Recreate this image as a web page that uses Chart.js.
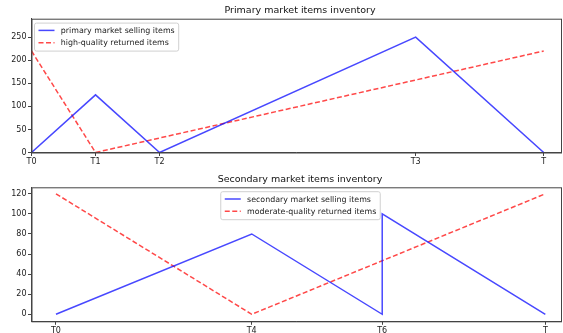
<!DOCTYPE html>
<html>
<head>
<meta charset="utf-8">
<script src="https://cdn.jsdelivr.net/npm/chart.js@4/dist/chart.umd.min.js"></script>
<style>
  body { margin: 0; background: #fff; }
  .box { position: absolute; left: 0; width: 563px; }
  #top { top: 0; height: 170px; }
  #bottom { top: 170px; height: 163px; }
</style>
</head>
<body>
<div class="box" id="top"><canvas id="primaryChart"></canvas></div>
<div class="box" id="bottom"><canvas id="secondaryChart"></canvas></div>
<script>
// top chart: primary market
const topTickPos = [0, 1, 2, 6, 8];
const topTickLabels = ['T0', 'T1', 'T2', 'T3', 'T'];
const topYTicks = [0, 50, 100, 150, 200, 250];
const primaryX = [0, 1, 2, 6, 8];
const primarySelling = [0, 125, 0, 250, 0];
const highQualityX = [0, 1, 8];
const highQualityReturned = [220, 0, 220];

// bottom chart: secondary market
const botTickPos = [0, 6, 10, 15];
const botTickLabels = ['T0', 'T4', 'T6', 'T'];
const botYTicks = [0, 20, 40, 60, 80, 100, 120];
const secondaryX = [0, 6, 10, 10, 15];
const secondarySelling = [0, 80, 0, 100, 0];
const moderateX = [0, 6, 15];
const moderateReturned = [120, 0, 120];

const FONT = 'DejaVu Sans';
const BLUE = 'rgba(20, 20, 255, 0.78)';
const RED = 'rgba(255, 20, 20, 0.78)';

function points(xs, ys) {
  return xs.map((x, i) => ({ x: x, y: ys[i] }));
}

// frame around the plot area plus title and legend, matplotlib style
const framePlugin = {
  id: 'frame',
  afterDraw(chart, args, opts) {
    const ctx = chart.ctx;
    const a = chart.chartArea;
    ctx.save();
    ctx.strokeStyle = '#444';
    ctx.lineWidth = 1;
    ctx.strokeRect(a.left + 0.5, a.top + 0.5, a.right - a.left, a.bottom - a.top);

    // title
    ctx.fillStyle = '#111';
    ctx.font = '9.5px ' + FONT;
    ctx.textAlign = 'center';
    ctx.textBaseline = 'middle';
    ctx.fillText(opts.title, opts.titleX, a.top - 8);

    // legend
    ctx.font = '7.9px ' + FONT;
    ctx.textAlign = 'left';
    const sets = chart.data.datasets;
    const tw = Math.max(...sets.map(d => ctx.measureText(d.label).width));
    const w = 4 + 16 + 6.3 + tw + 4;
    const h = 28;
    const x0 = opts.legendCenter ? opts.legendCenter - w / 2 : a.left + 3;
    const y0 = a.top + 4.4;
    ctx.fillStyle = 'rgba(255,255,255,0.85)';
    ctx.strokeStyle = '#d0d0d0';
    ctx.beginPath();
    ctx.roundRect(x0, y0, w, h, 2);
    ctx.fill();
    ctx.stroke();
    sets.forEach((d, i) => {
      const ry = y0 + 7.3 + i * 12.3;
      ctx.strokeStyle = d.borderColor;
      ctx.lineWidth = 1.5;
      ctx.setLineDash(d.borderDash || []);
      ctx.beginPath();
      ctx.moveTo(x0 + 4, ry);
      ctx.lineTo(x0 + 20, ry);
      ctx.stroke();
      ctx.setLineDash([]);
      ctx.fillStyle = '#222';
      ctx.fillText(d.label, x0 + 26.3, ry + 0.5);
    });
    ctx.restore();
  }
};

function makeChart(id, cfg) {
  return new Chart(document.getElementById(id), {
    type: 'line',
    data: { datasets: cfg.datasets },
    options: {
      responsive: true,
      maintainAspectRatio: false,
      animation: false,
      layout: { padding: { top: cfg.padTop, right: 2, left: 0, bottom: 0 } },
      elements: { point: { radius: 0 }, line: { tension: 0, borderWidth: 1.5 } },
      plugins: {
        legend: { display: false },
        tooltip: { enabled: false },
        frame: { title: cfg.title, titleX: 300, legendCenter: cfg.legendCenter }
      },
      scales: {
        x: {
          type: 'linear',
          min: cfg.xMin,
          max: cfg.xMax,
          afterBuildTicks: s => { s.ticks = cfg.xTicks.map(v => ({ value: v })); },
          afterFit: s => { s.height = cfg.xHeight; },
          ticks: {
            autoSkip: false,
            maxRotation: 0,
            padding: 1,
            color: '#222',
            font: { family: FONT, size: 8 },
            callback: (v) => cfg.xLabels[cfg.xTicks.indexOf(v)]
          },
          grid: { drawOnChartArea: false, drawTicks: true, tickLength: 3.5, color: '#444' },
          border: { color: '#444' }
        },
        y: {
          min: cfg.yMin,
          max: cfg.yMax,
          afterBuildTicks: s => { s.ticks = cfg.yTicks.map(v => ({ value: v })); },
          afterFit: s => { s.width = 31.5; },
          ticks: {
            padding: 1.5,
            color: '#222',
            font: { family: FONT, size: 8 }
          },
          grid: { drawOnChartArea: false, drawTicks: true, tickLength: 3.5, color: '#444' },
          border: { color: '#444' }
        }
      }
    },
    plugins: [framePlugin]
  });
}

makeChart('primaryChart', {
  title: 'Primary market items inventory',
  padTop: 18.7,
  xHeight: 17.5,
  xMin: 0, xMax: 8.27,
  xTicks: topTickPos, xLabels: topTickLabels,
  yMin: 0, yMax: 290, yTicks: topYTicks,
  datasets: [{
    label: 'primary market selling items',
    data: points(primaryX, primarySelling),
    borderColor: BLUE
  }, {
    label: 'high-quality returned items',
    data: points(highQualityX, highQualityReturned),
    borderColor: RED,
    borderDash: [5, 2.5]
  }]
});

makeChart('secondaryChart', {
  title: 'Secondary market items inventory',
  padTop: 17.3,
  xHeight: 11.7,
  xMin: -0.75, xMax: 15.48,
  xTicks: botTickPos, xLabels: botTickLabels,
  yMin: -7, yMax: 126.5, yTicks: botYTicks,
  legendCenter: 300.5,
  datasets: [{
    label: 'secondary market selling items',
    data: points(secondaryX, secondarySelling),
    borderColor: BLUE
  }, {
    label: 'moderate-quality returned items',
    data: points(moderateX, moderateReturned),
    borderColor: RED,
    borderDash: [5, 2.5]
  }]
});
</script>
</body>
</html>
